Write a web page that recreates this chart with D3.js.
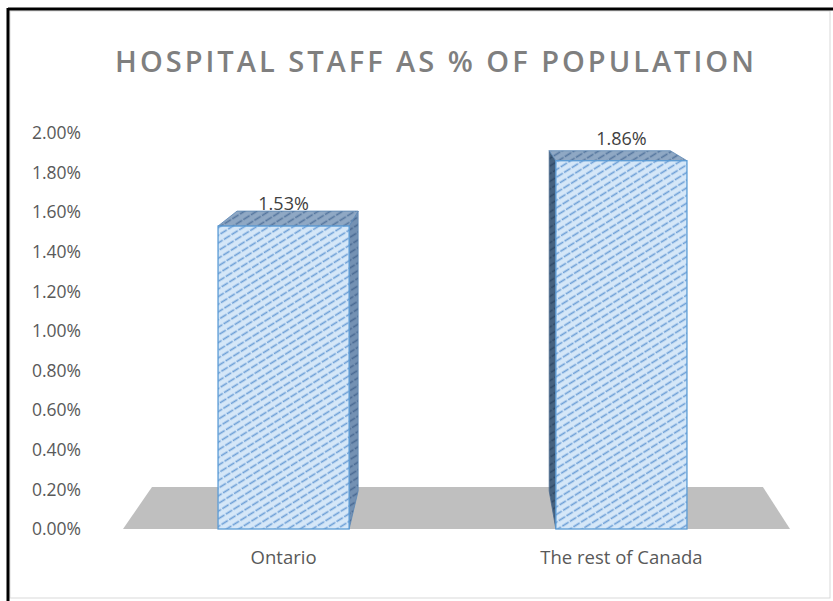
<!DOCTYPE html>
<html>
<head>
<meta charset="utf-8">
<script src="https://cdn.jsdelivr.net/npm/d3@7"></script>
<style>
  html, body { margin: 0; padding: 0; background: #ffffff; }
  svg { display: block; }
</style>
</head>
<body>
<svg id="chart" width="833" height="601"></svg>
<script>
// Chart data
const chartTitle = "HOSPITAL STAFF AS % OF POPULATION";
const categories = ["Ontario", "The rest of Canada"];
const values = [0.0153, 0.0186];
const valueLabels = ["1.53%", "1.86%"];
const tickValues = [0, 0.002, 0.004, 0.006, 0.008, 0.010, 0.012, 0.014, 0.016, 0.018, 0.020];

const W = 833, H = 601;
const FONT = "Open Sans, sans-serif";
const svg = d3.select("#chart");
const defs = svg.append("defs");

// Frame
svg.append("rect").attr("x", 10).attr("y", 11).attr("width", 820).attr("height", 587)
  .attr("fill", "#ffffff").attr("stroke", "#d9d9d9").attr("stroke-width", 1);
svg.append("line").attr("x1", 8).attr("x2", W).attr("y1", 9).attr("y2", 9)
  .attr("stroke", "#000").attr("stroke-width", 3);
svg.append("line").attr("x1", 8).attr("x2", 8).attr("y1", 8).attr("y2", H)
  .attr("stroke", "#000").attr("stroke-width", 3);

// Scales
const y = d3.scaleLinear().domain([0, 0.02]).range([529, 133]);
const x = d3.scaleBand().domain(categories).range([115, 790])
  .paddingInner(0.612).paddingOuter(0.305);

// Perspective: vanishing point for the depth direction
const vp = [468, 29];
const back = (p, k) => [p[0] + k * (vp[0] - p[0]), p[1] + k * (vp[1] - p[1])];
const barDepth = 0.076, floorDepth = 0.084;

// Hatch patterns: dashed lines rising to the right
function slant(id, bg, fg, w) {
  const p = defs.append("pattern").attr("id", id)
    .attr("patternUnits", "userSpaceOnUse")
    .attr("width", 9).attr("height", 6.5)
    .attr("patternTransform", "rotate(-32)");
  p.append("rect").attr("width", 9).attr("height", 6.5).attr("fill", bg);
  p.append("line").attr("x1", 0).attr("x2", 9).attr("y1", 3.2).attr("y2", 3.2)
    .attr("stroke", fg).attr("stroke-width", w).attr("stroke-dasharray", "7.5,1.5");
}
slant("front", "#d5e7f8", "#6d9fd6", 1.6);
slant("top", "#8fa8c4", "#56779f", 1.6);
slant("sideR", "#7491b3", "#4a6a93", 1.6);
slant("sideL", "#46627f", "#2f4a68", 1.6);

// Floor
const fl = [[123, y(0)], [790, y(0)]];
const floorPts = [fl[0], fl[1], back(fl[1], floorDepth), back(fl[0], floorDepth)];
svg.append("polygon").attr("points", floorPts.map(p => p.join(",")).join(" "))
  .attr("fill", "#bfbfbf");

// Bars
const line = d3.line();
categories.forEach((c, i) => {
  const x0 = x(c), x1 = x(c) + x.bandwidth();
  const y0 = y(0), y1 = y(values[i]);
  const fTL = [x0, y1], fTR = [x1, y1], fBL = [x0, y0], fBR = [x1, y0];
  const bTL = back(fTL, barDepth), bTR = back(fTR, barDepth);
  const bBL = back(fBL, barDepth), bBR = back(fBR, barDepth);
  const g = svg.append("g");
  if (x1 < vp[0]) {
    g.append("path").attr("d", line([fTR, bTR, bBR, fBR]) + "Z")
      .attr("fill", "url(#sideR)").attr("stroke", "#5b86b5").attr("stroke-width", 0.8);
  }
  if (x0 > vp[0]) {
    g.append("path").attr("d", line([fTL, bTL, bBL, fBL]) + "Z")
      .attr("fill", "url(#sideL)").attr("stroke", "#4a6a8e").attr("stroke-width", 0.8);
  }
  g.append("path").attr("d", line([fTL, fTR, bTR, bTL]) + "Z")
    .attr("fill", "url(#top)").attr("stroke", "#5b86b5").attr("stroke-width", 0.8);
  g.append("rect").attr("x", x0).attr("y", y1).attr("width", x1 - x0).attr("height", y0 - y1)
    .attr("fill", "url(#front)").attr("stroke", "#5b9bd5").attr("stroke-width", 1.3);
  // value label
  svg.append("text").attr("x", (x0 + x1) / 2).attr("y", y1 - 16)
    .attr("text-anchor", "middle")
    .attr("font-family", FONT).attr("font-size", 18)
    .attr("fill", "#404040").text(valueLabels[i]);
});

// Y axis labels
const yAxis = d3.axisLeft(y).tickValues(tickValues).tickFormat(d3.format(".2%"))
  .tickSize(0).tickPadding(0);
const ya = svg.append("g").attr("transform", "translate(81,0)").call(yAxis);
ya.select(".domain").remove();
ya.selectAll("text").attr("font-family", FONT).attr("font-size", 17.5)
  .attr("fill", "#595959");

// X axis labels
const xAxis = d3.axisBottom(x).tickSize(0).tickPadding(0);
const xa = svg.append("g").attr("transform", "translate(0,551)").call(xAxis);
xa.select(".domain").remove();
xa.selectAll("text").attr("font-family", FONT).attr("font-size", 18.5)
  .attr("fill", "#595959");

// Title
svg.append("text").attr("x", 436).attr("y", 72).attr("text-anchor", "middle")
  .attr("font-family", FONT).attr("font-size", 29)
  .attr("letter-spacing", 3).attr("font-weight", 600)
  .attr("fill", "#7f7f7f").text(chartTitle);
</script>
</body>
</html>
